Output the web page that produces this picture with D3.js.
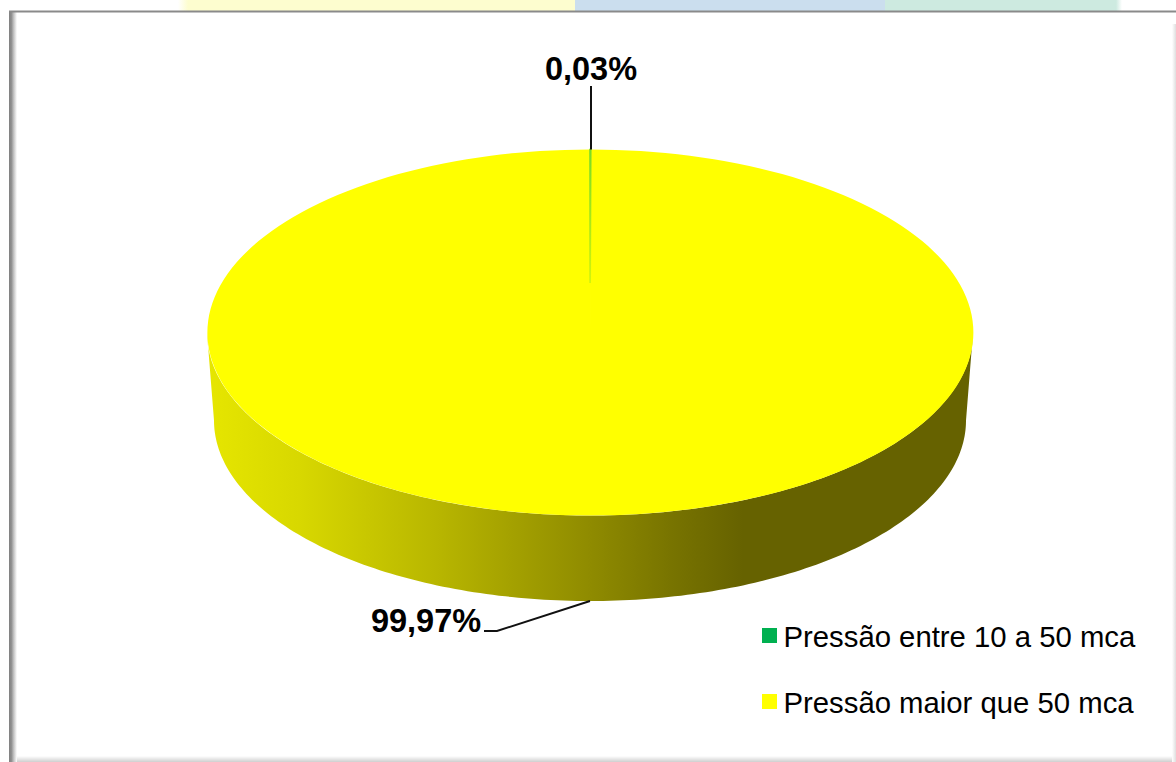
<!DOCTYPE html>
<html><head><meta charset="utf-8">
<script src="https://cdn.jsdelivr.net/npm/d3@7/dist/d3.min.js"></script>
<style>html,body{margin:0;padding:0;background:#fff;overflow:hidden}svg{display:block}text{font-family:"Liberation Sans",Arial,sans-serif}</style>
</head><body><svg id="c" width="1176" height="762"></svg>
<script>
const categories = ["Pressão entre 10 a 50 mca", "Pressão maior que 50 mca"];
const seriesValues = [0.03, 99.97];
const valueLabels = ["0,03%", "99,97%"];
const sliceColors = ["#00b050", "#ffff00"];

const svg = d3.select("#c");
const defs = svg.append("defs");

function lin(id,x1,y1,x2,y2,stops){
  const g=defs.append("linearGradient").attr("id",id).attr("x1",x1).attr("y1",y1).attr("x2",x2).attr("y2",y2);
  stops.forEach(s=>g.append("stop").attr("offset",s[0]).attr("stop-color",s[1]));
}

// page strip behind the chart, with soft ends
lin("stripL",0,0,1,0,[[0,"#ffffff"],[1,"#fdfdcf"]]);
lin("stripR",0,0,1,0,[[0,"#cdeae0"],[1,"#ffffff"]]);
const strip = [["url(#stripL)",178,188],["#fdfdcf",188,575],["#cbdeee",575,885],["#cdeae0",885,1116],["url(#stripR)",1116,1122]];
svg.selectAll("rect.strip").data(strip).join("rect").attr("class","strip")
  .attr("x",d=>d[1]).attr("y",0).attr("width",d=>d[2]-d[1]).attr("height",11).attr("fill",d=>d[0]);

// chart frame with inner bevel
lin("bl",0,0,1,0,[[0,"#808080"],[0.3,"#8f8f8f"],[0.6,"#c4c4c4"],[1,"#ffffff"]]);
lin("bb",0,1,0,0,[[0,"#cfcfcf"],[1,"#ffffff"]]);
lin("br",1,0,0,0,[[0,"#dedede"],[1,"#ffffff"]]);
svg.append("rect").attr("x",9).attr("y",11).attr("width",1167).attr("height",751).attr("fill","#fff");
svg.append("rect").attr("x",9).attr("y",11).attr("width",8).attr("height",751).attr("fill","url(#bl)");
svg.append("rect").attr("x",17).attr("y",756).attr("width",1159).attr("height",6).attr("fill","url(#bb)");
svg.append("rect").attr("x",1172).attr("y",24).attr("width",4).attr("height",738).attr("fill","url(#br)");
svg.append("rect").attr("x",9).attr("y",10.5).attr("width",1167).attr("height",2).attr("fill","#8a8a8a");

// 3D pie geometry
const cx=590, cy=332.5, rx=383, ry=183, depth=88, bottomRx=376, bottomRy=180.5;
const xT=d3.scaleLinear().domain([-1,1]).range([cx-rx,cx+rx]);
const yT=d3.scaleLinear().domain([-1,1]).range([cy-ry,cy+ry]);
const xB=d3.scaleLinear().domain([-1,1]).range([cx-bottomRx,cx+bottomRx]);
const yB=d3.scaleLinear().domain([-1,1]).range([cy+depth-bottomRy,cy+depth+bottomRy]);

const pie=d3.pie().sort(null).value(d=>d)(seriesValues);

// side wall: front half of the rim, top edge then bottom edge
lin("side",0,0,1,0,[[0,"#e6e600"],[0.12,"#d8d800"],[0.3,"#b8b600"],[0.5,"#8f8b00"],[0.62,"#757100"],[0.7,"#666200"],[1,"#666200"]]);
const angles=d3.range(0,181).map(i=>Math.PI/2+i*Math.PI/180);
const sidePts=[...angles.map(a=>[xT(Math.sin(a)),yT(-Math.cos(a))]),
               ...angles.slice().reverse().map(a=>[xB(Math.sin(a)),yB(-Math.cos(a))])];
svg.append("path").attr("d",d3.line()(sidePts)+"Z").attr("fill","url(#side)");

// top face drawn with d3.arc in a unit circle, projected by scale
const arc=d3.arc().innerRadius(0).outerRadius(1);
const face=svg.append("g").attr("transform",`translate(${cx},${cy}) scale(${rx},${ry})`);
face.selectAll("path.yellow").data([pie[1]]).join("path").attr("class","yellow")
  .attr("d",arc).attr("fill",sliceColors[1]);

// the very thin green slice fades into the yellow face
const fadeEnd=(283-cy)/ry;
const gv=defs.append("linearGradient").attr("id","gv").attr("gradientUnits","userSpaceOnUse")
  .attr("x1",0).attr("x2",0).attr("y1",-1).attr("y2",fadeEnd);
[[0,"#78dc28"],[0.45,"#a2e61c"],[0.999,"#d4f40c"],[1,"#ffff00"]].forEach(s=>gv.append("stop").attr("offset",s[0]).attr("stop-color",s[1]));
face.selectAll("path.green").data([pie[0]]).join("path").attr("class","green")
  .attr("d",arc).attr("fill","url(#gv)").attr("stroke","url(#gv)").attr("stroke-width",1.6)
  .attr("vector-effect","non-scaling-stroke");

// leader lines
const ll=d3.line();
svg.append("path").attr("d",ll([[591,86],[591,yT(-1)]])).attr("fill","none").attr("stroke","#111").attr("stroke-width",2);
svg.append("path").attr("d",ll([[484,631],[497,631],[590,601]])).attr("fill","none").attr("stroke","#111").attr("stroke-width",2);

// data labels
svg.append("text").attr("x",591).attr("y",80).attr("text-anchor","middle").attr("font-size",32.5).attr("font-weight","bold").attr("fill","#000").text(valueLabels[0]);
svg.append("text").attr("x",426).attr("y",632).attr("text-anchor","middle").attr("font-size",32.5).attr("font-weight","bold").attr("fill","#000").text(valueLabels[1]);

// legend
const legY=d3.scalePoint().domain(categories).range([636,702]);
const leg=svg.selectAll("g.leg").data(categories).join("g").attr("class","leg").attr("transform",d=>`translate(0,${legY(d)})`);
leg.append("rect").attr("x",762).attr("y",-8).attr("width",15).attr("height",15).attr("fill",(d,i)=>sliceColors[i]);
leg.append("text").attr("x",783.5).attr("y",11).attr("font-size",29.3).attr("fill","#000").text(d=>d);
</script></body></html>
